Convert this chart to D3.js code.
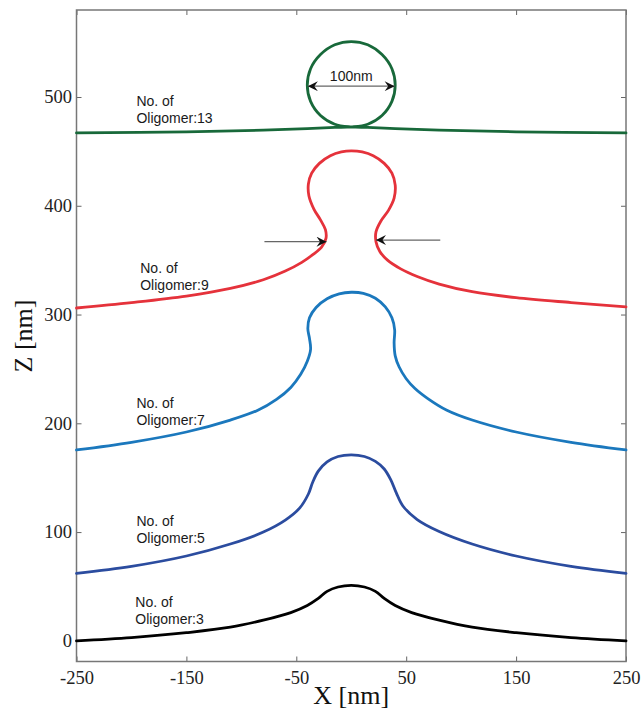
<!DOCTYPE html>
<html>
<head>
<meta charset="utf-8">
<script src="https://cdn.jsdelivr.net/npm/d3@7"></script>
<style>
  html, body { margin: 0; padding: 0; background: #fff; }
  svg { display: block; }
</style>
</head>
<body>
<svg id="chart" width="641" height="712"></svg>
<script>
// ---------- data ----------
const xTicks = [-250, -150, -50, 50, 150, 250];
const yTicks = [0, 100, 200, 300, 400, 500];

const oligomer3 = [
  [-250, 0], [-200, 3], [-150, 7.5], [-110, 12.5], [-80, 19], [-55, 26], [-40, 32.5],
  [-30, 39], [-22, 45.5], [-12, 49.5], [0, 51], [12, 49.5], [22, 45.5], [30, 39],
  [40, 32.5], [55, 26], [80, 19], [110, 12.5], [150, 7.5], [200, 3], [250, 0]
];
const oligomer5 = [
  [-250, 62], [-200, 68.5], [-150, 78], [-110, 89], [-80, 100], [-60, 111], [-47, 122],
  [-39, 135], [-35, 146], [-30, 156], [-22, 164.5], [-12, 169.5], [0, 171], [12, 169.5],
  [22, 165], [30, 158], [36, 148], [41, 136], [47, 124], [60, 111.5], [80, 100.5],
  [110, 89], [150, 78], [200, 68.5], [250, 62]
];
const oligomer7 = [
  [-250, 175.5], [-200, 182.5], [-150, 192], [-110, 203], [-85, 212], [-68, 222],
  [-55, 233], [-46, 245], [-40, 257], [-37, 268], [-38, 278], [-39.5, 287], [-38, 297],
  [-32, 306.5], [-22, 314.5], [-11, 319], [0, 320.5], [11, 319.5], [22, 315], [31, 307],
  [37, 297], [39.5, 286], [39, 274], [40, 262], [43.5, 252], [50, 241], [58, 232],
  [70, 222.5], [87, 212], [110, 203], [150, 192], [200, 182.5], [250, 175.5]
];
const oligomer9 = [
  [-250, 306], [-200, 311], [-150, 317], [-110, 324], [-80, 332], [-60, 340], [-45, 348],
  [-35, 355], [-27, 362], [-23, 370], [-23.5, 378], [-28, 387], [-34, 397], [-38.5, 409],
  [-39, 420], [-36, 430], [-29, 439], [-19, 446], [-9, 449.5], [0, 450.5], [10, 449.5],
  [20, 446], [30, 439], [37, 430], [40, 419], [39, 407], [34, 396], [27, 386],
  [22.5, 376], [22.5, 367], [26, 358], [33, 350], [45, 342], [60, 335], [80, 328],
  [110, 321], [150, 315.5], [200, 311], [250, 307]
];
const oligomer13 = [
  [-250, 467], [-150, 468], [-80, 469.5], [-40, 471], [-15, 472], [0, 472.5],
  [15, 475], [28, 483], [37, 496], [40, 511], [37, 526], [28, 539], [15, 548],
  [0, 551], [-15, 548], [-28, 539], [-37, 526], [-40, 511], [-37, 496], [-28, 483],
  [-15, 475], [0, 472.5], [15, 472], [40, 471], [80, 469.5], [150, 468], [250, 467]
];

const seriesNames = ["No. of Oligomer:3", "No. of Oligomer:5", "No. of Oligomer:7", "No. of Oligomer:9", "No. of Oligomer:13"];
const seriesData = [oligomer3, oligomer5, oligomer7, oligomer9, oligomer13];
const seriesColors = ["#000000", "#2b4c9f", "#1b78bd", "#e5323b", "#18693a"];

// label anchors [x, z] in data units (first line of label)
const labelLines = [["No. of", "Oligomer:3"], ["No. of", "Oligomer:5"], ["No. of", "Oligomer:7"], ["No. of", "Oligomer:9"], ["No. of", "Oligomer:13"]];
const labelPos = [[-196.5, 31], [-195.5, 105.5], [-195.5, 214], [-192, 338.5], [-195.5, 492]];

// arrows [x1, z1, x2, z2]
const neckArrows = [[-79, 367, -22.5, 367], [81, 368.5, 22.5, 368.5]];
const diameterArrow = [-39.5, 510, 39.5, 510];
const diameterLabel = "100nm";

// ---------- layout ----------
const svg = d3.select("#chart");
const mLeft = 76.5, mRight = 626, mTop = 10, mBottom = 661.5;
const x = d3.scaleLinear().domain([-250, 250]).range([mLeft, mRight]);
const y = d3.scaleLinear().domain([-19, 580]).range([mBottom, mTop]);

const defs = svg.append("defs");
defs.append("marker").attr("id", "ah").attr("viewBox", "0 0 10 10")
  .attr("refX", 10).attr("refY", 5).attr("markerWidth", 12).attr("markerHeight", 10)
  .attr("markerUnits", "userSpaceOnUse").attr("orient", "auto-start-reverse")
  .append("path").attr("d", "M0,0 L10,5 L0,10 L3.5,5 Z").attr("fill", "#111");

// axes
const tickFont = "'Liberation Serif','Times New Roman',serif";
const fmt = d => String(d);
const gx = svg.append("g").attr("transform", `translate(0,${mBottom})`)
  .call(d3.axisBottom(x).tickValues(xTicks).tickSize(-5).tickPadding(9).tickFormat(fmt));
const gxt = svg.append("g").attr("transform", `translate(0,${mTop})`)
  .call(d3.axisTop(x).tickValues(xTicks).tickSize(-5).tickFormat(""));
const gy = svg.append("g").attr("transform", `translate(${mLeft},0)`)
  .call(d3.axisLeft(y).tickValues(yTicks).tickSize(-5).tickPadding(4.5).tickFormat(fmt));
const gyr = svg.append("g").attr("transform", `translate(${mRight},0)`)
  .call(d3.axisRight(y).tickValues(yTicks).tickSize(-5).tickFormat(""));
[gx, gxt, gy, gyr].forEach(g => {
  g.select(".domain").remove();
  g.selectAll(".tick line").attr("stroke", "#666").attr("stroke-width", 1);
  g.selectAll("text").attr("font-family", tickFont).attr("font-size", 18.5).attr("fill", "#222");
});

// frame
svg.append("rect").attr("x", mLeft).attr("y", mTop).attr("width", mRight - mLeft).attr("height", mBottom - mTop)
  .attr("fill", "none").attr("stroke", "#777").attr("stroke-width", 1.5);

// axis titles
svg.append("text").attr("x", (mLeft + mRight) / 2).attr("y", 704).attr("text-anchor", "middle")
  .attr("font-family", tickFont).attr("font-size", 26).attr("fill", "#111").text("X [nm]");
svg.append("text").attr("transform", `translate(32,336) rotate(-90)`).attr("text-anchor", "middle")
  .attr("font-family", tickFont).attr("font-size", 26).attr("fill", "#111").text("Z [nm]");

// curves
const line = d3.line().x(d => x(d[0])).y(d => y(d[1])).curve(d3.curveCatmullRom.alpha(0.5));
svg.append("g").selectAll("path").data(seriesData).join("path")
  .attr("d", d => line(d)).attr("fill", "none")
  .attr("stroke", (d, i) => seriesColors[i]).attr("stroke-width", 2.8)
  .attr("stroke-linejoin", "round").attr("stroke-linecap", "round");

// labels
const lab = svg.append("g").attr("font-family", "'Liberation Sans',Arial,sans-serif").attr("font-size", 14).attr("fill", "#1a1a1a");
labelLines.forEach((ls, i) => {
  const t = lab.append("text").attr("x", x(labelPos[i][0])).attr("y", y(labelPos[i][1]));
  ls.forEach((s, j) => t.append("tspan").attr("x", x(labelPos[i][0])).attr("dy", j === 0 ? 0 : 17).text(s));
});

// arrows
svg.append("g").selectAll("line").data(neckArrows).join("line")
  .attr("x1", d => x(d[0])).attr("y1", d => y(d[1])).attr("x2", d => x(d[2])).attr("y2", d => y(d[3]))
  .attr("stroke", "#666").attr("stroke-width", 1.2).attr("marker-end", "url(#ah)");
svg.append("line")
  .attr("x1", x(diameterArrow[0])).attr("y1", y(diameterArrow[1])).attr("x2", x(diameterArrow[2])).attr("y2", y(diameterArrow[3]))
  .attr("stroke", "#666").attr("stroke-width", 1.2).attr("marker-start", "url(#ah)").attr("marker-end", "url(#ah)");
svg.append("text").attr("x", x(0)).attr("y", y(diameterArrow[1]) - 5).attr("text-anchor", "middle")
  .attr("font-family", "'Liberation Sans',Arial,sans-serif").attr("font-size", 14).attr("fill", "#1a1a1a").text(diameterLabel);
</script>
</body>
</html>
